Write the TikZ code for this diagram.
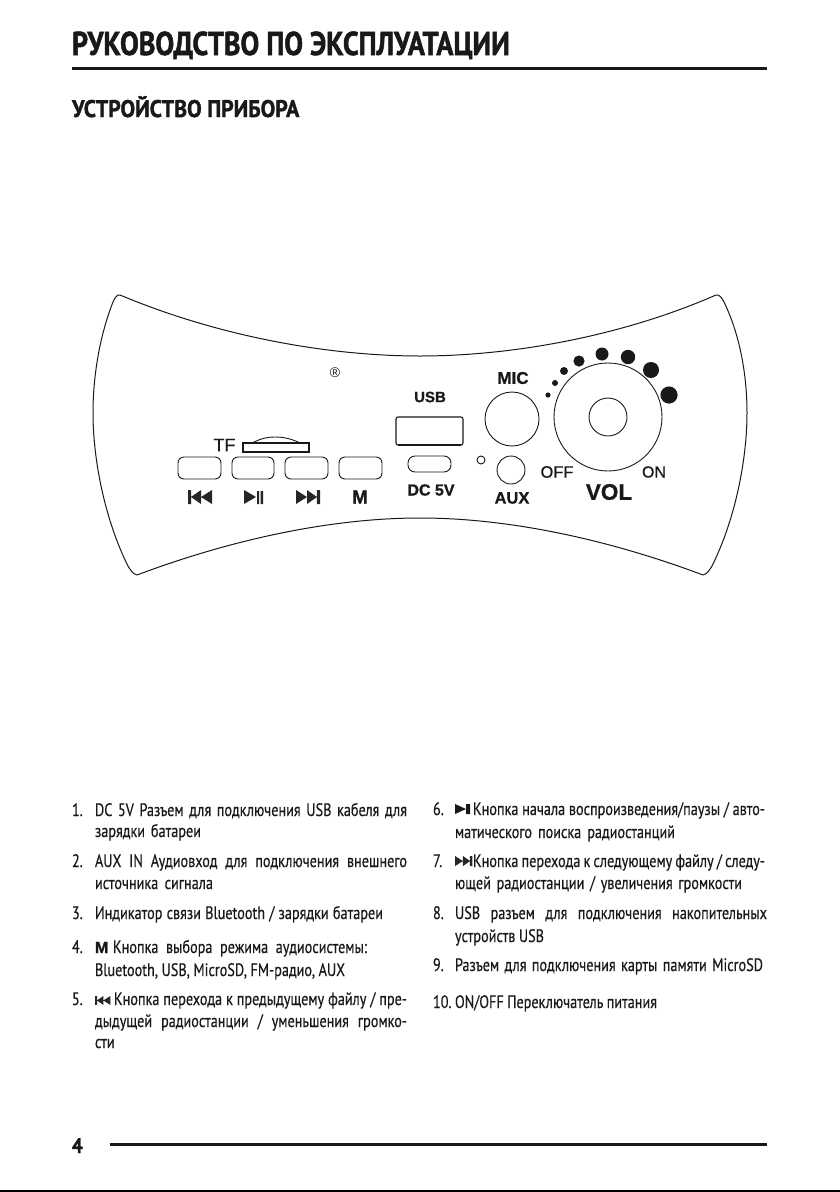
\documentclass[tikz,border=0pt]{standalone}
\usepackage{fontspec}
\setmainfont[FakeBold=0.6,BoldFeatures={FakeBold=1}]{Liberation Sans}
\newfontfamily\lightfont{Liberation Sans}
\newfontfamily\condfont[FakeStretch=0.79,FakeBold=0.4]{PT Sans}
\newfontfamily\titlefont[FakeStretch=0.85,FakeBold=1.5]{PT Sans Bold}
\newfontfamily\subfont[FakeStretch=0.91,FakeBold=1.5]{PT Sans Bold}
\newcommand{\bodysize}{\fontsize{18}{20}\selectfont}
\newcommand{\tline}[5]{% name, x, right, baseline, text
  \pgfmathsetlengthmacro{\tlw}{#3-#2}%
  \node[textline] (#1) at (#2,#4) {\hbox to \tlw{\spaceskip=.2em plus 1fil minus .05em #5\unskip}};}
\tikzset{
  ink/.style={draw=black!90,line width=1pt},
  thin ink/.style={draw=black!90,line width=.9pt},
  textline/.style={anchor=base west,inner sep=0pt,outer sep=0pt,text=black!90,font=\condfont\bodysize},
  numline/.style={anchor=base west,inner sep=0pt,outer sep=0pt,text=black!90,font=\condfont\bodysize},
  headline/.style={anchor=base west,inner sep=0pt,outer sep=0pt,text=black!90},
  label/.style={inner sep=0pt,outer sep=0pt,text=black!90},
  key/.style={draw=black!90,line width=.9pt,rounded corners=6pt},
  rule/.style={draw=black!90,line width=3pt},
  iconprev/.pic={\fill[black!85] (0,0) rectangle (3.2,14) (3,7)--(13,0)--(13,14)--cycle (13,7)--(24,0)--(24,14)--cycle;},
  iconnext/.pic={\fill[black!85] (20.8,0) rectangle (24,14) (21,7)--(11,0)--(11,14)--cycle (11,7)--(0,0)--(0,14)--cycle;},
  iconplay/.pic={\fill[black!85] (0,0)--(12,7)--(0,14)--cycle (13,1) rectangle (15.2,14) (16.6,1) rectangle (19,14);},
  iconplaysolid/.pic={\fill[black!90] (0,0)--(11,5)--(0,10)--cycle (11,0) rectangle (15,10);},
}
\begin{document}
\begin{tikzpicture}[x=1pt,y=-1pt]
\useasboundingbox (0,0) rectangle (840,1192);
% header
\node[headline] (title) at (72,55) {\titlefont\fontsize{33}{36}\selectfont РУКОВОДСТВО ПО ЭКСПЛУАТАЦИИ};
\coordinate (r1a) at (72,68); \coordinate (r1b) at (767,68);
\draw[rule] (r1a) -- (r1b);
\node[headline] (subtitle) at (72,117) {\subfont\fontsize{24}{26}\selectfont УСТРОЙСТВО ПРИБОРА};
% panel
\draw[ink,line join=round]
  (120,295) .. controls (220,337) and (330,356) .. (420,356)
  .. controls (510,356) and (620,337) .. (716,295)
  .. controls (719,294) and (722,298) .. (724,302)
  .. controls (740,335) and (747,375) .. (747,413)
  .. controls (747,460) and (735,520) .. (712,566)
  .. controls (709,571) and (707,574) .. (703,575)
  .. controls (610,540) and (510,518) .. (420,518)
  .. controls (330,518) and (230,540) .. (137,575)
  .. controls (133,574) and (131,571) .. (128,566)
  .. controls (105,520) and (93,460) .. (93,413)
  .. controls (93,375) and (100,335) .. (113,302)
  .. controls (115,298) and (117,294) .. (120,295) -- cycle;
\node[label,font=\lightfont\fontsize{14}{14}\selectfont] (reg) at (335,373) {®};
% buttons
\node[label,font=\fontsize{18}{18}\selectfont] (tf) at (224.5,445) {TF};
\draw[draw=black!90,line width=1.3pt] (243,443) rectangle (309,452);
\draw[thin ink] (252,443) .. controls (262,438) and (268,437) .. (275,437) .. controls (284,437) and (292,439) .. (300,443);
\draw[key] (178,457) rectangle (221,479);
\draw[key] (232,457) rectangle (274,479);
\draw[key] (285,457) rectangle (328,479);
\draw[key] (339,457) rectangle (382,479);
\pic at (188,490) {iconprev};
\pic at (244,490) {iconplay};
\pic at (296,490) {iconnext};
\node[label,font=\bfseries\fontsize{19}{19}\selectfont] (m) at (360,497) {M};
% usb
\node[label,font=\bfseries\fontsize{15}{15}\selectfont] (usb) at (430,397) {USB};
\draw[draw=black!90,line width=1.1pt,rounded corners=2pt] (396,417) rectangle (463,445);
\draw[draw=black!90,line width=1.6pt] (398,445) -- (461,445);
\draw[draw=black!90,line width=.9pt,rounded corners=7pt] (408,456) rectangle (451,472);
\node[label,font=\bfseries\fontsize{16}{16}\selectfont] (dc) at (431,490) {DC 5V};
% mic/aux
\node[label,font=\bfseries\fontsize{17}{17}\selectfont] (mic) at (513,378) {MIC};
\draw[thin ink] (512,419) circle (27);
\draw[thin ink] (481,460) circle (4);
\draw[thin ink] (511,470) circle (14);
\node[label,font=\bfseries\fontsize{16.5}{17}\selectfont] (aux) at (512,498) {AUX};
% volume
\draw[thin ink] (608,417) circle (54);
\draw[thin ink] (608,417) circle (19);
\node[label,font=\fontsize{16.5}{17}\selectfont] (off) at (557,472) {OFF};
\node[label,font=\fontsize{16}{16}\selectfont] (on) at (654,472) {ON};
\node[label,font=\bfseries\fontsize{22.5}{23}\selectfont] (vol) at (609,492) {VOL};
\fill[black!90] (548,395) circle (2.6) (555,383) circle (3) (564,371) circle (4) (579,361) circle (5.6)
  (602,354) circle (6.5) (628,357) circle (7.2) (651,370) circle (8) (669,395) circle (8.6);
% left column
\node[numline] (n1) at (72,816) {1.};
\tline{l1a}{95}{407}{816}{DC 5V Разъем для подключения USB кабеля для}
\tline{l1b}{95}{201}{837}{зарядки батареи}
\node[numline] (n2) at (72,867) {2.};
\tline{l2a}{95}{407}{867}{AUX IN Аудиовход для подключения внешнего}
\tline{l2b}{95}{213}{889}{источника сигнала}
\node[numline] (n3) at (72,919) {3.};
\tline{l3}{95}{383}{919}{Индикатор связи Bluetooth / зарядки батареи}
\node[numline] (n4) at (72,953) {4.};
\node[textline,font=\bfseries\fontsize{16}{16}\selectfont] (l4m) at (95,953) {M};
\tline{l4a}{113}{367}{953}{Кнопка выбора режима аудиосистемы:}
\tline{l4b}{95}{345}{976}{Bluetooth, USB, MicroSD, FM-радио, AUX}
\node[numline] (n5) at (72,1005) {5.};
\pic[scale=.64] at (95,996) {iconprev};
\tline{l5a}{114}{407}{1005}{Кнопка перехода к предыдущему файлу / пре-}
\tline{l5b}{95}{407}{1027}{дыдущей радиостанции / уменьшения громко-}
\tline{l5c}{95}{114}{1048}{сти}
% right column
\node[numline] (n6) at (433,815) {6.};
\pic at (455,804) {iconplaysolid};
\tline{r6a}{473}{765}{815}{Кнопка начала воспроизведения/паузы / авто-}
\tline{r6b}{455}{675}{838}{матического поиска радиостанций}
\node[numline] (n7) at (433,867) {7.};
\pic[scale=.72] at (455,856) {iconnext};
\tline{r7a}{473}{765}{867}{Кнопка перехода к следующему файлу / следу-}
\tline{r7b}{455}{742}{889}{ющей радиостанции / увеличения громкости}
\node[numline] (n8) at (433,919) {8.};
\tline{r8a}{455}{767}{919}{USB разъем для подключения накопительных}
\tline{r8b}{455}{544}{942}{устройств USB}
\node[numline] (n9) at (433,971) {9.};
\tline{r9}{455}{763}{971}{Разъем для подключения карты памяти MicroSD}
\node[numline] (n10) at (433,1008) {10.};
\tline{r10}{455}{657}{1008}{ON/OFF Переключатель питания}
% footer
\node[headline] (page) at (72,1153) {\subfont\fontsize{21}{22}\selectfont 4};
\coordinate (r2a) at (110,1144); \coordinate (r2b) at (767,1144);
\draw[rule] (r2a) -- (r2b);
\coordinate (r3a) at (0,1191.2); \coordinate (r3b) at (840,1191.2);
\draw[draw=black,line width=1.6pt] (r3a) -- (r3b);
\end{tikzpicture}
\end{document}
